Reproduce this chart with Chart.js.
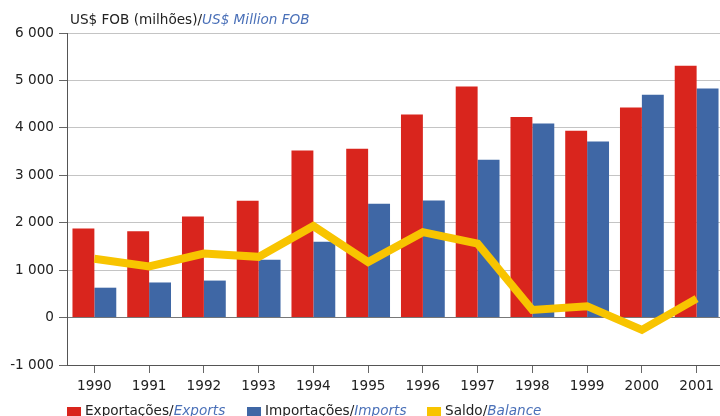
<!DOCTYPE html>
<html>
<head>
<meta charset="utf-8">
<script src="https://cdn.jsdelivr.net/npm/chart.js@4/dist/chart.umd.min.js"></script>
<style>
  html, body { margin: 0; padding: 0; background: #fff; overflow: hidden; }
  #wrap { width: 720px; height: 416px; overflow: hidden; }
  #box { width: 724px; height: 416px; }
</style>
</head>
<body>
<div id="wrap"><div id="box"><canvas id="chart"></canvas></div></div>
<script>
const years = ['1990', '1991', '1992', '1993', '1994', '1995', '1996', '1997', '1998', '1999', '2000', '2001'];
const exportsVals = [1880, 1820, 2130, 2465, 3520, 3560, 4280, 4870, 4230, 3940, 4430, 5310];
const importsVals = [630, 740, 780, 1220, 1600, 2400, 2470, 3330, 4090, 3710, 4700, 4830];
const balanceVals = [1240, 1080, 1350, 1280, 1930, 1170, 1800, 1560, 160, 240, -260, 400];
const yTicks = [-1000, 0, 1000, 2000, 3000, 4000, 5000, 6000];

const FONT = "'DejaVu Sans', Verdana, sans-serif";
const SIZE = 13.6;
const RED = '#d9251d';
const BLUE = '#3f67a5';
const YELLOW = '#f8c400';
const ITALIC_BLUE = '#4a70b8';

function fmt(v) {
  const s = String(Math.abs(v)).replace(/\B(?=(\d{3})+(?!\d))/g, ' ');
  return (v < 0 ? '-' : '') + s;
}

// draws a "plain/italic" text pair, returns end x
function twoTone(ctx, x, y, plain, italic) {
  ctx.font = SIZE + 'px ' + FONT;
  ctx.fillStyle = '#222';
  ctx.fillText(plain, x, y);
  x += ctx.measureText(plain).width;
  ctx.font = 'italic ' + SIZE + 'px ' + FONT;
  ctx.fillStyle = ITALIC_BLUE;
  ctx.fillText(italic, x, y);
  return x + ctx.measureText(italic).width;
}

const textPlugin = {
  id: 'texts',
  afterDraw(chart) {
    const ctx = chart.ctx;
    ctx.save();
    ctx.textBaseline = 'alphabetic';
    ctx.textAlign = 'left';
    twoTone(ctx, 70, 23.5, 'US$ FOB (milhões)/', 'US$ Million FOB');

    const items = [
      [RED, 'Exportações/', 'Exports', 67],
      [BLUE, 'Importações/', 'Imports', 247],
      [YELLOW, 'Saldo/', 'Balance', 427]
    ];
    items.forEach(it => {
      ctx.fillStyle = it[0];
      ctx.fillRect(it[3], 407, 14, 10);
      twoTone(ctx, it[3] + 18, 415, it[1], it[2]);
    });
    ctx.restore();
  }
};

new Chart(document.getElementById('chart'), {
  data: {
    labels: years,
    datasets: [
      {
        type: 'line',
        label: 'Saldo/Balance',
        data: balanceVals,
        borderColor: YELLOW,
        borderWidth: 8,
        pointRadius: 0,
        tension: 0,
        order: 0
      },
      {
        type: 'bar',
        label: 'Exportações/Exports',
        data: exportsVals,
        backgroundColor: RED,
        borderWidth: 0,
        categoryPercentage: 0.8,
        barPercentage: 1.0,
        order: 1
      },
      {
        type: 'bar',
        label: 'Importações/Imports',
        data: importsVals,
        backgroundColor: BLUE,
        borderWidth: 0,
        categoryPercentage: 0.8,
        barPercentage: 1.0,
        order: 1
      }
    ]
  },
  options: {
    responsive: true,
    maintainAspectRatio: false,
    animation: false,
    layout: { padding: { top: 33, left: 0, right: 0, bottom: 0 } },
    plugins: {
      legend: { display: false },
      tooltip: { enabled: false }
    },
    scales: {
      x: {
        offset: true,
        grid: {
          offset: false,
          drawOnChartArea: false,
          drawTicks: true,
          tickLength: 8,
          tickColor: '#666'
        },
        border: { color: '#555', width: 1 },
        ticks: {
          color: '#222',
          padding: 5,
          maxRotation: 0,
          autoSkip: false,
          font: { family: FONT, size: SIZE }
        },
        afterFit(scale) { scale.height = 51; }
      },
      y: {
        min: -1000,
        max: 6000,
        afterBuildTicks(scale) { scale.ticks = yTicks.map(v => ({ value: v })); },
        grid: {
          color: c => (c.tick && c.tick.value === 0 ? '#777' : '#c4c4c4'),
          tickColor: '#666',
          tickLength: 8,
          lineWidth: 1
        },
        border: { color: '#555', width: 1 },
        ticks: {
          color: '#222',
          padding: 5,
          font: { family: FONT, size: SIZE },
          callback: v => fmt(v)
        },
        afterFit(scale) { scale.width = 67; }
      }
    }
  },
  plugins: [textPlugin]
});
</script>
</body>
</html>
